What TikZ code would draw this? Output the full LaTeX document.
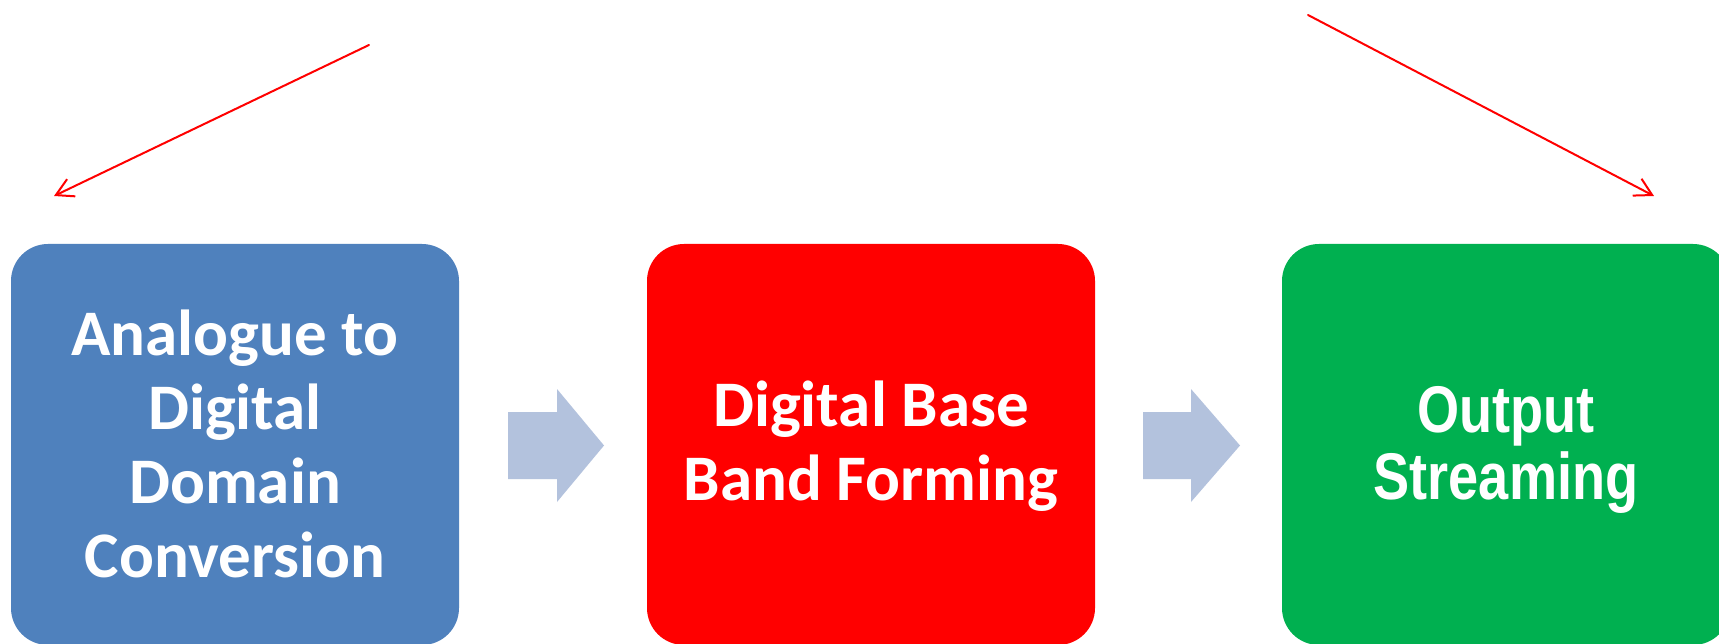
\documentclass[tikz,border=0pt]{standalone}
\usepackage{fontspec}
\usetikzlibrary{arrows.meta}
\newfontfamily\calibrifont{Carlito}[BoldFont=* Bold]
\newfontfamily\narrowfont{Liberation Sans}[FakeStretch=0.82]
\definecolor{boxblue}{HTML}{4F81BD}
\definecolor{boxred}{HTML}{FF0000}
\definecolor{boxgreen}{HTML}{00B050}
\definecolor{chevron}{HTML}{B3C2DD}
\definecolor{pointer}{HTML}{FF0000}
\tikzset{
  stagebox/.style={rounded corners=37pt, minimum width=448pt, minimum height=401pt,
    inner sep=0pt, text=white, align=center},
  calfont/.style={font={\calibrifont\bfseries\fontsize{65}{74}\selectfont}},
  arialfont/.style={font={\narrowfont\bfseries\fontsize{66}{67}\selectfont}},
  blockarrow/.style={fill=chevron},
  pointerline/.style={draw=pointer, line width=2pt, line cap=round, line join=round,
    -{Straight Barb[length=17pt, width=19pt, line width=2pt]}}
}
\begin{document}
\begin{tikzpicture}[x=1pt, y=-1pt]
\useasboundingbox (0,0) rectangle (1719,644);
\clip (0,0) rectangle (1719,644);
\fill[white] (0,0) rectangle (1719,644);
% stage boxes
\node[stagebox, fill=boxblue] (adc) at (235,444.5) {};
\node[stagebox, fill=boxred] (dbf) at (871,444.5) {};
\node[stagebox, fill=boxgreen] (out) at (1506,444.5) {};
% box texts
\node[calfont, text=white, align=center, inner sep=0pt] (adctext) at ([yshift=1pt]adc.center) {Analogue to\\Digital\\Domain\\Conversion};
\node[calfont, text=white, align=center, inner sep=0pt] (dbftext) at ([yshift=-2pt]dbf.center) {Digital Base\\Band Forming};
\node[arialfont, text=white, align=center, inner sep=0pt] (outtext) at ([yshift=-5pt]out.center) {Output\\Streaming};
% block arrows between the stages
\fill[blockarrow] (508,412) -- (557,412) -- (557,389) -- (604,445.5) -- (557,502) -- (557,479) -- (508,479) -- cycle;
\fill[blockarrow] (1143,412) -- (1191,412) -- (1191,389) -- (1240,445.5) -- (1191,502) -- (1191,479) -- (1143,479) -- cycle;
% red pointer arrows
\coordinate (lstart) at (369,45);
\coordinate (lend) at (54,196);
\coordinate (rstart) at (1308,15);
\coordinate (rend) at (1654,196);
\draw[pointerline] (lstart) -- (lend);
\draw[pointerline] (rstart) -- (rend);
\end{tikzpicture}
\end{document}
